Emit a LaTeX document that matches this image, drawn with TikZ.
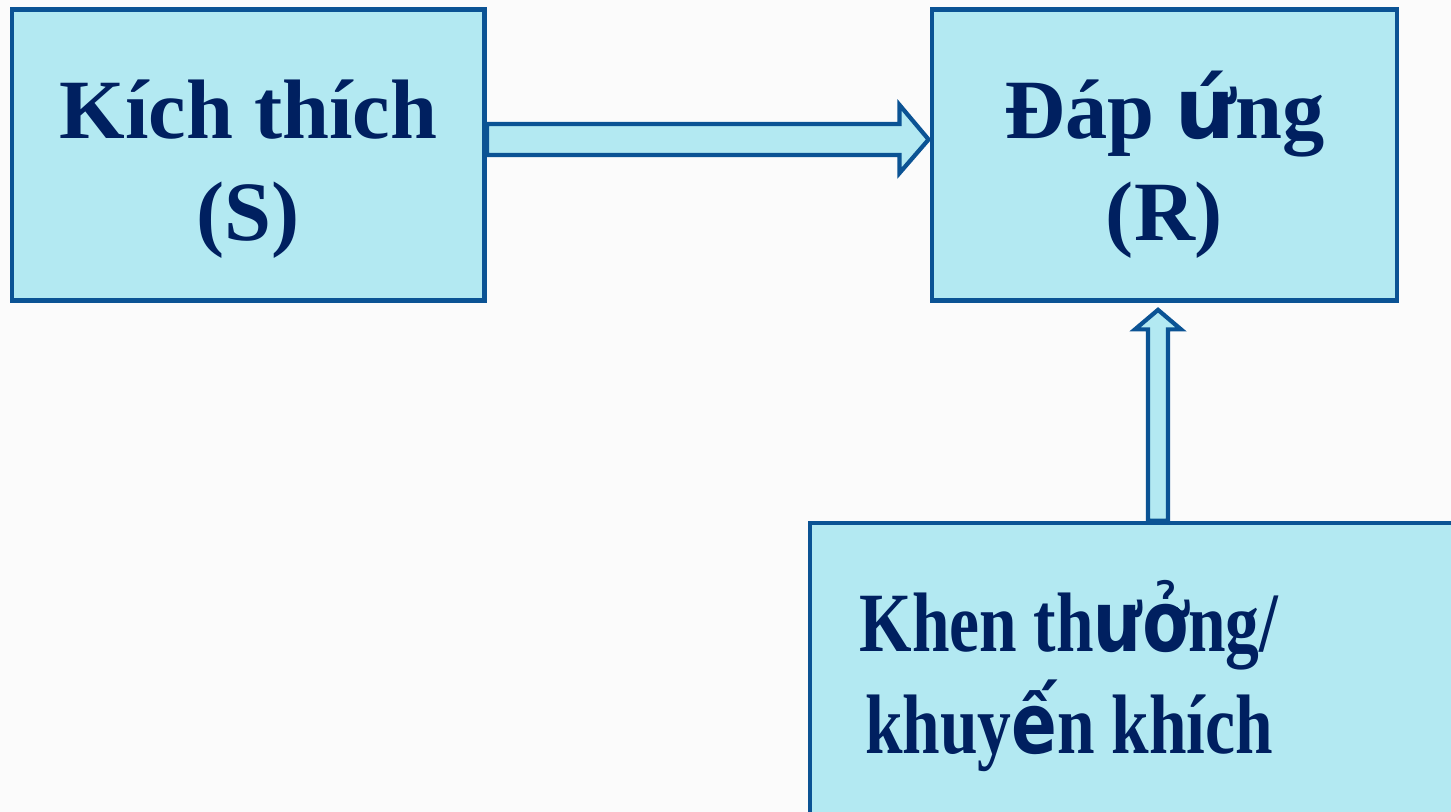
\documentclass[tikz,border=0pt]{standalone}
\usepackage{fontspec}
\setmainfont{Liberation Serif}
\newfontfamily\fbfont{DejaVu Sans}
\usetikzlibrary{calc}
\definecolor{bg}{HTML}{FBFBFB}
\definecolor{boxfill}{HTML}{B3E9F2}
\definecolor{boxline}{HTML}{0B5394}
\definecolor{ink}{HTML}{002060}
\newcommand{\fb}[1]{{\fbfont\bfseries #1}}
\tikzset{
  box/.style={draw=boxline, fill=boxfill, line width=1.3pt, rectangle, inner sep=0pt},
  lbl/.style={text=ink, font=\fontsize{24}{29}\selectfont\bfseries, align=center, anchor=base, inner sep=0pt},
  barrow/.style={draw=boxline, fill=boxfill, line width=1.2pt, line join=miter}
}

\begin{document}
\begin{tikzpicture}[x=0.01cm, y=-0.01cm]
  \useasboundingbox (0,0) rectangle (1451,812);
  \fill[bg] (0,0) rectangle (1451,812);
  \clip (0,0) rectangle (1451,812);

  \node[box, minimum width=4.725cm, minimum height=2.91cm] (S) at (248.25,155) {};
  \node[box, minimum width=4.65cm, minimum height=2.91cm] (R) at (1164.5,155) {};
  \node[box, minimum width=6.695cm, minimum height=3.17cm] (K) at (1145,681.5) {};

  % S -> R
  \draw[barrow] ($(S.east)+(0,-31)$) -- ($(R.west)+(-30,-31)$) -- ($(R.west)+(-30,-50)$)
    -- ($(R.west)+(-1,-15.5)$) -- ($(R.west)+(-30,18)$) -- ($(R.west)+(-30,0)$) -- (S.east) -- cycle;

  % K -> R
  \coordinate (T) at ($(R.south)+(-6.5,7)$);
  \draw[barrow] (T) -- ++(23,19.5) -- ++(-13,0) -- ($(T |- K.north)+(10,0)$)
    -- ($(T |- K.north)+(-10,0)$) -- ($(T)+(-10,19.5)$) -- ++(-13,0) -- cycle;

  \node[lbl] (St) at (248.25,240) {Kích thích\\(S)};
  \node[lbl] (Rt) at (1164.5,240) {Đáp \fb{ứ}ng\\(R)};
  \node[lbl, xscale=0.8, transform shape] (Kt) at (1069,753) {Khen th\fb{ưở}ng/\\khuy\fb{ế}n khích};
\end{tikzpicture}
\end{document}
